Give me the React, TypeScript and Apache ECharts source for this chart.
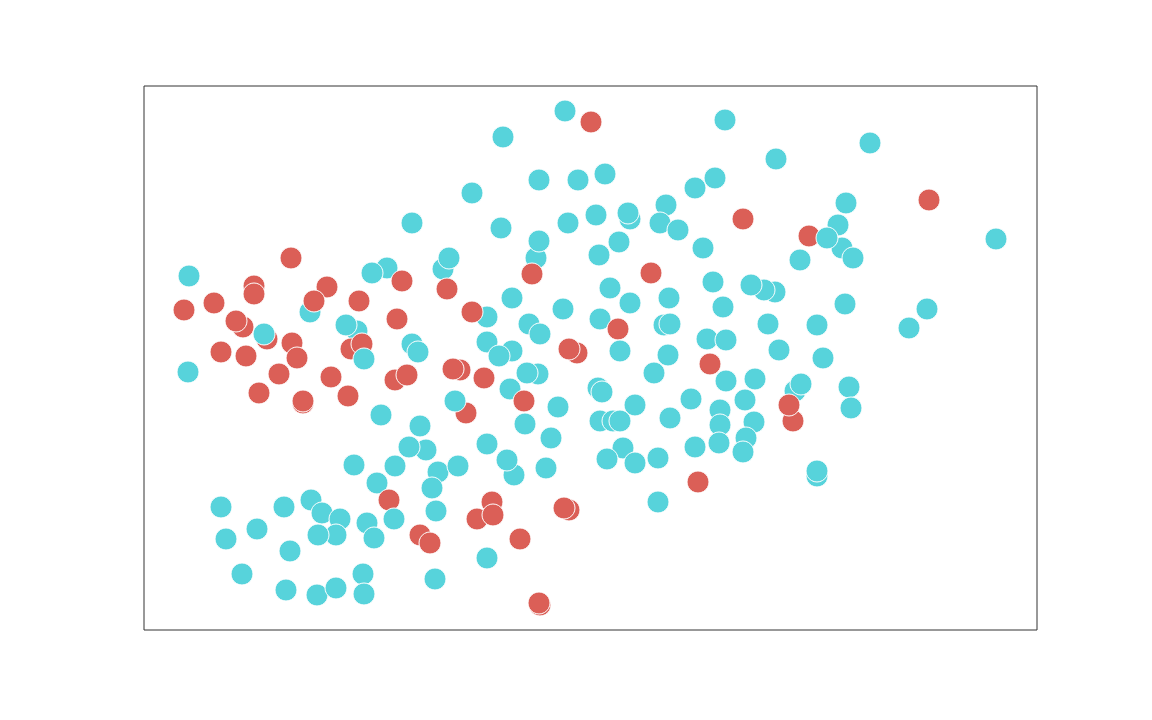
import React, { useEffect, useRef } from "react";
import * as echarts from "echarts";

// Point positions (x left→right, y top→bottom in plot units)
const pointX = [
  565, 591, 503, 725, 870, 776, 605, 539, 578, 472,
  715, 695, 666, 846, 929, 630, 628, 596, 660, 743,
  678, 568, 501, 412, 838, 842, 809, 827, 853, 996,
  619, 536, 539, 599, 703, 800, 291, 443, 449, 532,
  651, 387, 372, 402, 447, 189, 254, 254, 327, 310,
  314, 214, 184, 359, 713, 610, 775, 764, 751, 669,
  630, 512, 563, 723, 487, 472, 397, 600, 618, 529,
  540, 664, 670, 768, 845, 817, 909, 927, 243, 236,
  267, 264, 292, 297, 221, 246, 357, 346, 351, 362,
  364, 412, 418, 487, 512, 499, 577, 569, 620, 668,
  707, 726, 779, 823, 710, 654, 726, 755, 279, 331,
  395, 407, 460, 453, 484, 510, 538, 527, 524, 558,
  466, 455, 381, 420, 426, 409, 487, 514, 507, 551,
  546, 525, 395, 438, 432, 458, 377, 389, 394, 436,
  492, 477, 493, 420, 430, 520, 569, 564, 487, 435,
  540, 539, 188, 259, 303, 303, 348, 354, 221, 226,
  257, 284, 311, 322, 340, 336, 318, 367, 374, 290,
  242, 286, 317, 336, 363, 364, 795, 801, 793, 789,
  598, 602, 635, 691, 745, 720, 720, 754, 746, 743,
  719, 670, 600, 613, 620, 623, 607, 635, 658, 695,
  698, 658, 817, 817, 849, 851,
];

const pointY = [
  111, 122, 137, 120, 143, 159, 174, 180, 180, 193,
  178, 188, 205, 203, 200, 219, 213, 215, 223, 219,
  230, 223, 228, 223, 225, 248, 236, 238, 258, 239,
  242, 258, 241, 255, 248, 260, 258, 269, 258, 274,
  273, 268, 273, 281, 289, 276, 286, 294, 287, 312,
  301, 303, 310, 301, 282, 288, 292, 290, 285, 298,
  303, 298, 309, 307, 317, 312, 319, 319, 329, 324,
  334, 325, 324, 324, 304, 325, 328, 309, 327, 321,
  339, 334, 343, 358, 352, 356, 331, 325, 349, 344,
  359, 344, 352, 342, 351, 356, 353, 349, 351, 355,
  339, 340, 350, 358, 364, 373, 381, 379, 374, 377,
  380, 375, 370, 369, 378, 389, 374, 373, 401, 407,
  413, 401, 415, 426, 450, 447, 444, 475, 460, 438,
  468, 424, 466, 472, 488, 466, 483, 500, 519, 511,
  502, 519, 515, 535, 543, 539, 510, 508, 558, 579,
  605, 603, 372, 393, 403, 401, 396, 465, 507, 539,
  529, 507, 500, 513, 519, 535, 535, 523, 538, 551,
  574, 590, 595, 588, 574, 594, 391, 384, 421, 405,
  388, 392, 405, 399, 400, 410, 425, 422, 438, 452,
  443, 418, 421, 421, 421, 448, 459, 463, 458, 447,
  482, 502, 476, 471, 387, 408,
];

// 0 = cyan group, 1 = red group
const pointHue = [
  0, 1, 0, 0, 0, 0, 0, 0, 0, 0,
  0, 0, 0, 0, 1, 0, 0, 0, 0, 1,
  0, 0, 0, 0, 0, 0, 1, 0, 0, 0,
  0, 0, 0, 0, 0, 0, 1, 0, 0, 1,
  1, 0, 0, 1, 1, 0, 1, 1, 1, 0,
  1, 1, 1, 1, 0, 0, 0, 0, 0, 0,
  0, 0, 0, 0, 0, 1, 1, 0, 1, 0,
  0, 0, 0, 0, 0, 0, 0, 0, 1, 1,
  1, 0, 1, 1, 1, 1, 0, 0, 1, 1,
  0, 0, 0, 0, 0, 0, 1, 1, 0, 0,
  0, 0, 0, 0, 1, 0, 0, 0, 1, 1,
  1, 1, 1, 1, 1, 0, 0, 0, 1, 0,
  1, 0, 0, 0, 0, 0, 0, 0, 0, 0,
  0, 0, 0, 0, 0, 0, 0, 1, 0, 0,
  1, 1, 1, 1, 1, 1, 1, 1, 0, 0,
  1, 1, 0, 1, 1, 1, 1, 0, 0, 0,
  0, 0, 0, 0, 0, 0, 0, 0, 0, 0,
  0, 0, 0, 0, 0, 0, 0, 0, 1, 1,
  0, 0, 0, 0, 0, 0, 0, 0, 0, 0,
  0, 0, 0, 0, 0, 0, 0, 0, 0, 0,
  1, 0, 0, 0, 0, 0,
];

const hueColors = ["#57d3db", "#db5f57"];

export default function App() {
  const ref = useRef<HTMLDivElement>(null);

  useEffect(() => {
    if (!ref.current) return;
    const chart = echarts.init(ref.current, undefined, { renderer: "svg" });
    const data = pointX.map((x, i) => ({
      value: [x, pointY[i]],
      itemStyle: { color: hueColors[pointHue[i]] },
    }));
    chart.setOption({
      animation: false,
      backgroundColor: "#ffffff",
      grid: {
        left: 144,
        top: 86,
        width: 893,
        height: 544,
        show: true,
        borderColor: "#333333",
        borderWidth: 1,
        backgroundColor: "transparent",
      },
      xAxis: {
        type: "value",
        min: 144,
        max: 1037,
        show: false,
      },
      yAxis: {
        type: "value",
        min: 86,
        max: 630,
        inverse: true,
        show: false,
      },
      series: [
        {
          type: "scatter",
          symbol: "circle",
          symbolSize: 22,
          itemStyle: { borderColor: "#ffffff", borderWidth: 1, opacity: 1 },
          data,
        },
      ],
    });
    return () => chart.dispose();
  }, []);

  return (
    <div
      ref={ref}
      style={{ position: "fixed", left: 0, top: 0, width: 1152, height: 720 }}
    />
  );
}
